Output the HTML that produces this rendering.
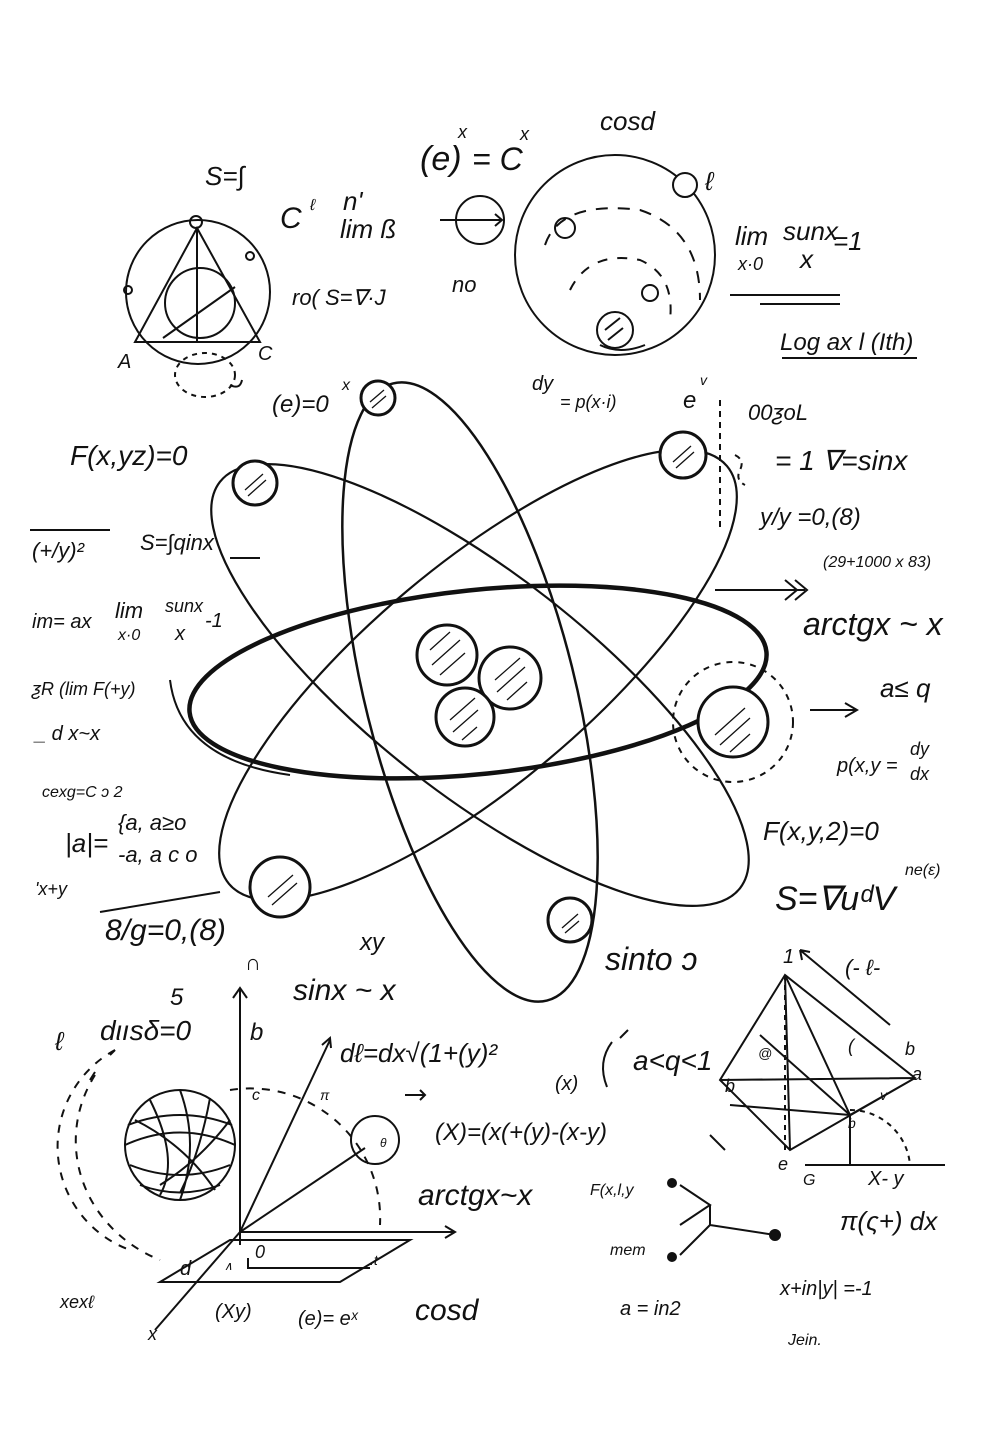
<!DOCTYPE html>
<html><head><meta charset="utf-8"><style>
html,body{margin:0;padding:0;background:#fff}
svg{display:block}
text{font-family:"Liberation Sans",sans-serif;fill:#111;font-style:italic}
</style></head><body>
<svg width="1000" height="1450" viewBox="0 0 1000 1450" xmlns="http://www.w3.org/2000/svg">
<rect width="1000" height="1450" fill="#fff"/>
<g fill="none" stroke="#111" stroke-width="2">
<!-- atom orbits -->
<ellipse cx="478" cy="682" rx="290" ry="92" transform="rotate(-6 478 682)" stroke-width="4.5"/>
<ellipse cx="470" cy="692" rx="105" ry="318" transform="rotate(-14 470 692)" stroke-width="2.5"/>
<ellipse cx="480" cy="685" rx="110" ry="330" transform="rotate(-52 480 685)" stroke-width="2.2"/>
<ellipse cx="478" cy="675" rx="110" ry="325" transform="rotate(50 478 675)" stroke-width="2.2"/>
<path d="M170 680 Q180 760 290 775" stroke-width="2"/>
<circle cx="733" cy="722" r="60" stroke-dasharray="6 6"/>
</g>
<g fill="#fff" stroke="#111" stroke-width="3">
<circle cx="447" cy="655" r="30"/><circle cx="510" cy="678" r="31"/><circle cx="465" cy="717" r="29"/>
<circle cx="378" cy="398" r="17"/><circle cx="683" cy="455" r="23"/><circle cx="255" cy="483" r="22"/>
<circle cx="733" cy="722" r="35"/><circle cx="280" cy="887" r="30"/><circle cx="570" cy="920" r="22"/>
</g>
<g stroke="#111" stroke-width="1.3">
<path d="M430 650l20-18M432 665l28-25M440 675l25-22M495 680l25-22M497 692l28-25M507 700l20-18M450 720l25-22M453 732l25-22M462 740l15-13M370 402l14-12M372 408l14-12M673 462l18-16M676 468l18-16M245 490l18-16M248 496l18-16M715 735l30-27M720 745l30-27M730 752l20-18M268 897l25-22M272 905l25-22M562 928l16-14M565 933l14-12"/>
</g>
<!-- top left triangle circle -->
<g fill="none" stroke="#111" stroke-width="2">
<circle cx="198" cy="292" r="72"/>
<path d="M197 228L135 342H260Z"/><circle cx="200" cy="303" r="35"/>
<path d="M163 338L235 287M197 228V342"/>
<circle cx="196" cy="222" r="6"/><circle cx="128" cy="290" r="4"/><circle cx="250" cy="256" r="4"/>
<ellipse cx="205" cy="375" rx="30" ry="22" stroke-dasharray="5 5"/>
<path d="M230 385q10 5 12 -5"/>
<!-- top right circle -->
<circle cx="615" cy="255" r="100"/>
<circle cx="685" cy="185" r="12" fill="#fff"/>
<path d="M545 245 Q560 200 640 210 Q700 230 700 300" stroke-dasharray="12 10"/>
<path d="M570 290 Q590 250 640 260 Q675 275 670 320" stroke-dasharray="10 10"/>
<circle cx="565" cy="228" r="10"/><circle cx="650" cy="293" r="8"/>
<circle cx="615" cy="330" r="18"/>
<path d="M600 345q20 10 45 0M605 330l15-12M608 340l15-12"/>
<!-- arrow circle -->
<circle cx="480" cy="220" r="24"/><path d="M440 220h62M495 214l7 6-7 6"/>
<path d="M730 295h110M760 304h80"/>
<path d="M782 358h135"/>
<path d="M735 455q10 5 5 15 -5 10 5 15M720 400v130" stroke-dasharray="6 5"/>
<path d="M715 590h90M785 580l12 10-12 10M795 580l12 10-12 10"/>
<path d="M810 710h45M845 703l12 7-12 7"/>
<path d="M30 530h80M230 558h30M100 912l120-20"/>
<!-- bottom left axes -->
<path d="M240 990V1245M233 998l7-10 7 10"/>
<path d="M240 1232H455M445 1226l10 6-10 6"/>
<path d="M240 1232L155 1330"/>
<path d="M240 1232L330 1040M322 1045l8-7 1 10"/>
<path d="M240 1232L365 1148"/>
<circle cx="375" cy="1140" r="24"/>
<path d="M160 1282L230 1240H410L340 1282Z"/>
<path d="M248 1258V1268H370"/>
<circle cx="180" cy="1145" r="55"/>
<path d="M125 1145q55-25 110 0M128 1125q52-20 104 0M130 1165q50 20 100 0M140 1185q40 15 80 0M150 1100q30 60 10 95M180 1090q20 55 0 110M210 1098q-10 55 -30 95M230 1120q-30 40 -70 65M135 1120q50 25 80 70"/>
<path d="M115 1050 A110 110 0 0 0 130 1250" stroke-dasharray="8 8"/>
<path d="M95 1075 A140 130 0 0 0 160 1260" stroke-dasharray="8 8"/>
<path d="M230 1090 A130 130 0 0 1 380 1225" stroke-dasharray="8 8"/>
<path d="M115 1050l-5 5M90 1080l5-8"/>
<!-- bottom right pyramid -->
<path d="M785 975L720 1080L790 1150L915 1078Z M785 975L850 1115L915 1078 M720 1080L915 1078 M785 975L790 1150 M785 975L850 1115 M730 1105L850 1115 M760 1035L850 1115"/>
<path d="M785 975V1150" stroke-dasharray="5 5"/>
<path d="M805 1165H945M850 1115V1165"/>
<path d="M850 1110 A60 60 0 0 1 910 1165" stroke-dasharray="5 5"/>
<path d="M890 1025L800 950M800 950l10 2M800 950l2 10"/>
<path d="M612 1042q-15 20 -5 45M628 1030l-8 8"/>
<path d="M680 1225L710 1205L680 1185M710 1205V1225L775 1235"/>
<circle cx="672" cy="1183" r="4" fill="#111"/><circle cx="672" cy="1257" r="4" fill="#111"/><circle cx="775" cy="1235" r="5" fill="#111"/>
<path d="M710 1225L680 1255M710 1135l15 15"/>
<path d="M405 1095h20M420 1090l5 5-5 5"/>
</g>
<!-- text -->
<g font-size="26">
<text x="205" y="185">S=∫</text>
<text x="280" y="228" font-size="30">C</text><text x="310" y="210" font-size="16">ℓ</text>
<text x="343" y="210">n'</text><text x="340" y="238">lim ß</text>
<text x="420" y="170" font-size="34">(e)</text><text x="458" y="138" font-size="18">x</text><text x="472" y="170" font-size="32">= C</text><text x="520" y="140" font-size="18">x</text>
<text x="600" y="130">cosd</text>
<text x="705" y="190">ℓ</text>
<text x="735" y="245">lim</text><text x="738" y="270" font-size="18">x·0</text>
<text x="783" y="240">sunx</text><text x="800" y="268">x</text><text x="833" y="250">=1</text>
<text x="292" y="305" font-size="22">ro( S=∇·J</text><text x="452" y="292" font-size="22">no</text>
<text x="780" y="350" font-size="24">Log ax l (Ith)</text>
<text x="118" y="368" font-size="20">A</text><text x="258" y="360" font-size="20">C</text>
<text x="272" y="412" font-size="24">(e)=0</text><text x="342" y="390" font-size="16">x</text>
<text x="532" y="390" font-size="20">dy</text><text x="560" y="408" font-size="18">= p(x·i)</text>
<text x="683" y="408" font-size="24">e</text><text x="700" y="385" font-size="14">v</text>
<text x="748" y="420" font-size="22">00ƺoL</text>
<text x="775" y="470" font-size="28">= 1 ∇=sinx</text>
<text x="760" y="525" font-size="24">y/y =0,(8)</text>
<text x="823" y="567" font-size="16">(29+1000 x 83)</text>
<text x="70" y="465" font-size="28">F(x,yz)=0</text>
<text x="32" y="558" font-size="22">(+/y)²</text>
<text x="140" y="550" font-size="22">S=∫qinx</text>
<text x="32" y="628" font-size="20">im= ax</text><text x="115" y="618" font-size="22">lim</text><text x="118" y="640" font-size="16">x·0</text>
<text x="165" y="612" font-size="18">sunx</text><text x="175" y="640" font-size="20">x</text><text x="205" y="627" font-size="20">-1</text>
<text x="803" y="635" font-size="32">arctgx ~ x</text>
<text x="880" y="697" font-size="26">a≤ q</text>
<text x="32" y="695" font-size="18">ƺR (lim F(+y)</text>
<text x="35" y="740" font-size="20">_ d x~x</text>
<text x="42" y="797" font-size="16">cexg=C ɔ 2</text>
<text x="65" y="852" font-size="26">|a|=</text><text x="118" y="830" font-size="22">{a, a≥o</text><text x="118" y="862" font-size="22">-a, a c o</text>
<text x="35" y="895" font-size="18">'x+y</text>
<text x="105" y="940" font-size="30">8/g=0,(8)</text>
<text x="910" y="755" font-size="18">dy</text><text x="837" y="772" font-size="20">p(x,y =</text><text x="910" y="780" font-size="18">dx</text>
<text x="763" y="840" font-size="26">F(x,y,2)=0</text>
<text x="905" y="875" font-size="16">ne(ε)</text>
<text x="775" y="910" font-size="34">S=∇uᵈV</text>
<text x="360" y="950" font-size="24">xy</text>
<text x="605" y="970" font-size="32">sinto ɔ</text>
<text x="293" y="1000" font-size="30">sinx ~ x</text>
<text x="170" y="1005" font-size="24">5</text>
<text x="55" y="1050" font-size="26">ℓ</text><text x="100" y="1040" font-size="28">dιısδ=0</text>
<text x="250" y="1040" font-size="24">b</text><text x="252" y="1100" font-size="16">c</text>
<text x="320" y="1100" font-size="14">π</text>
<text x="340" y="1062" font-size="26">dℓ=dx√(1+(y)²</text>
<text x="555" y="1090" font-size="20">(x)</text>
<text x="633" y="1070" font-size="28">a&lt;q&lt;1</text><text x="725" y="1092" font-size="18">b</text>
<text x="435" y="1140" font-size="24">(X)=(x(+(y)-(x-y)</text>
<text x="418" y="1205" font-size="30">arctgx~x</text>
<text x="590" y="1195" font-size="16">F(x,l,y</text>
<text x="255" y="1258" font-size="18">0</text><text x="180" y="1275" font-size="20">d</text><text x="224" y="1270" font-size="12">∧</text>
<text x="370" y="1265" font-size="14">.t</text>
<text x="60" y="1308" font-size="18">xexℓ</text><text x="148" y="1340" font-size="18">x</text>
<text x="215" y="1318" font-size="20">(Xy)</text>
<text x="298" y="1325" font-size="20">(e)= eˣ</text>
<text x="415" y="1320" font-size="30">cosd</text>
<text x="610" y="1255" font-size="16">mem</text>
<text x="620" y="1315" font-size="20">a = in2</text>
<text x="780" y="1295" font-size="20">x+in|y| =-1</text>
<text x="788" y="1345" font-size="16">Jein.</text>
<text x="840" y="1230" font-size="26">π(ς+) dx</text>
<text x="783" y="963" font-size="20">1</text>
<text x="845" y="975" font-size="22">(- ℓ-</text>
<text x="905" y="1055" font-size="18">b</text><text x="912" y="1080" font-size="18">a</text>
<text x="778" y="1170" font-size="18">e</text><text x="803" y="1185" font-size="16">G</text>
<text x="868" y="1185" font-size="20">X- y</text>
<text x="758" y="1058" font-size="14">@</text><text x="848" y="1052" font-size="18">(</text>
<text x="880" y="1100" font-size="14">v</text><text x="848" y="1128" font-size="14">b</text>
<text x="380" y="1147" font-size="12">θ</text>
<text x="245" y="970" font-size="22">∩</text>
</g>
</svg>
</body></html>
